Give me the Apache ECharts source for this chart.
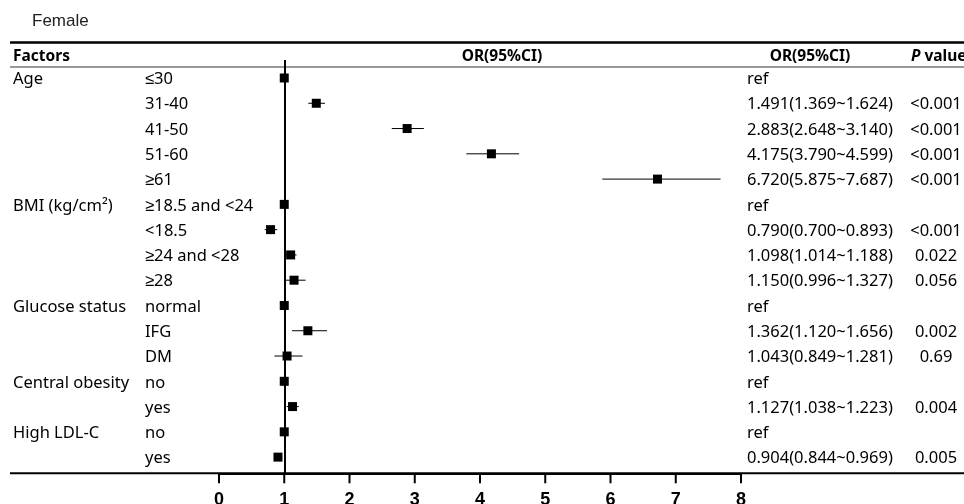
<!DOCTYPE html>
<html><head><meta charset="utf-8">
<script src="https://cdn.jsdelivr.net/npm/echarts@6/dist/echarts.min.js"></script>
<style>html,body{margin:0;padding:0;background:#fff}#c{width:964px;height:504px}</style>
</head><body><div id="c"></div>
<script>
const factors = ['Age','','','','','BMI (kg/cm²)','','','','Glucose status','','','Central obesity','','High LDL-C',''];
const subgroups = ['≤30','31-40','41-50','51-60','≥61','≥18.5 and <24','<18.5','≥24 and <28','≥28','normal','IFG','DM','no','yes','no','yes'];
const orValues = [1,1.491,2.883,4.175,6.720,1,0.790,1.098,1.150,1,1.362,1.043,1,1.127,1,0.904];
const ciLower = [null,1.369,2.648,3.790,5.875,null,0.700,1.014,0.996,null,1.120,0.849,null,1.038,null,0.844];
const ciUpper = [null,1.624,3.140,4.599,7.687,null,0.893,1.188,1.327,null,1.656,1.281,null,1.223,null,0.969];
const orText = ['ref','1.491(1.369~1.624)','2.883(2.648~3.140)','4.175(3.790~4.599)','6.720(5.875~7.687)','ref','0.790(0.700~0.893)','1.098(1.014~1.188)','1.150(0.996~1.327)','ref','1.362(1.120~1.656)','1.043(0.849~1.281)','ref','1.127(1.038~1.223)','ref','0.904(0.844~0.969)'];
const pValues = ['','<0.001','<0.001','<0.001','<0.001','','<0.001','0.022','0.056','','0.002','0.69','','0.004','','0.005'];
const xTicks = [0,1,2,3,4,5,6,7,8];

const FONT = '"Noto Sans", sans-serif';
const TS = 16.5;
const HS = 15.5;
const TOPV = 16.352, LASTROW = 15.64;
const rowPos = i => LASTROW - i;

const forestData = orValues.map((v,i)=>[v, rowPos(i), ciLower[i], ciUpper[i]]);
const tableData = subgroups.map((s,i)=>[0, rowPos(i), i]);
const tickData = xTicks.map(t=>[t, 0]);

const chart = echarts.init(document.getElementById('c'));
chart.setOption({
  animation:false,
  backgroundColor:'#fff',
  grid:{left:219, right:223, top:60, bottom:30.7, containLabel:false, outerBoundsMode:'none'},
  xAxis:{type:'value', position:'bottom', min:xTicks[0], max:xTicks[xTicks.length-1], interval:1,
    axisLine:{show:true, onZero:false, lineStyle:{color:'#000', width:2}},
    axisTick:{show:false},
    axisLabel:{show:true, margin:18, color:'#000', fontWeight:'bold', fontSize:18, fontFamily:'"Liberation Sans", Arial, sans-serif'},
    splitLine:{show:false}},
  yAxis:{type:'value', min:0, max:TOPV, show:false},
  graphic:[
    {type:'text', x:32, y:21, style:{text:'Female', fontSize:17, fontFamily:'"Liberation Sans", Arial, sans-serif', fill:'#222', verticalAlign:'middle'}},
    {type:'line', shape:{x1:10,y1:42.5,x2:964,y2:42.5}, style:{stroke:'#000', lineWidth:2.5}},
    {type:'line', shape:{x1:10,y1:67,x2:964,y2:67}, style:{stroke:'#777', lineWidth:1.5}},
    {type:'line', shape:{x1:10,y1:473.3,x2:964,y2:473.3}, style:{stroke:'#000', lineWidth:2}},
    {type:'text', x:13, y:56.7, style:{text:'Factors', font:'bold '+HS+'px '+FONT, fill:'#000', verticalAlign:'middle'}},
    {type:'text', x:502, y:56.7, style:{text:'OR(95%CI)', font:'bold '+HS+'px '+FONT, fill:'#000', align:'center', verticalAlign:'middle'}},
    {type:'text', x:810, y:56.7, style:{text:'OR(95%CI)', font:'bold '+HS+'px '+FONT, fill:'#000', align:'center', verticalAlign:'middle'}},
    {type:'text', x:911, y:56.7, style:{text:'{i|P} value', font:'bold '+HS+'px '+FONT, fill:'#000', verticalAlign:'middle',
      rich:{i:{fontStyle:'italic', fontWeight:'bold', fontSize:HS, fontFamily:FONT, fill:'#000'}}}}
  ],
  series:[
    {type:'custom', name:'forest', data:forestData, clip:false, encode:{x:0, y:1},
      renderItem:function(params, api){
        const v = api.value(0), r = api.value(1), lo = api.value(2), hi = api.value(3);
        const c = api.coord([v, r]);
        const children = [];
        if (lo !== null && !isNaN(lo) && !isNaN(hi)) {
          const a = api.coord([lo, r]), b = api.coord([hi, r]);
          children.push({type:'line', shape:{x1:a[0], y1:a[1], x2:b[0], y2:b[1]}, style:{stroke:'#000', lineWidth:1}});
        }
        children.push({type:'rect', shape:{x:c[0]-4.5, y:c[1]-4.5, width:9, height:9}, style:{fill:'#000'}});
        return {type:'group', children:children};
      },
      markLine:{silent:true, symbol:['none','none'], label:{show:false},
        lineStyle:{color:'#000', width:2, type:'solid'}, data:[{xAxis:1}]},
      z:3
    },
    {type:'custom', name:'ticks', data:tickData, clip:false, silent:true, encode:{x:0, y:1}, z:10,
      renderItem:function(params, api){
        const p = api.coord([api.value(0), api.value(1)]);
        return {type:'rect', shape:{x:p[0]-1, y:p[1], width:2, height:10}, style:{fill:'#000'}};
      }
    },
    {type:'custom', name:'table', data:tableData, clip:false, silent:true, encode:{x:0, y:1},
      renderItem:function(params, api){
        const r = api.value(1), i = api.value(2);
        const y = api.coord([0, r])[1] + 1.5;
        const f = 'normal '+TS+'px '+FONT;
        const kids = [];
        if (factors[i]) kids.push({type:'text', x:13, y:y, style:{text:factors[i], font:f, fill:'#000', verticalAlign:'middle'}});
        kids.push({type:'text', x:145, y:y, style:{text:subgroups[i], font:f, fill:'#000', verticalAlign:'middle'}});
        kids.push({type:'text', x:747, y:y, style:{text:orText[i], font:f, fill:'#000', verticalAlign:'middle'}});
        if (pValues[i]) kids.push({type:'text', x:936, y:y, style:{text:pValues[i], font:f, fill:'#000', align:'center', verticalAlign:'middle'}});
        return {type:'group', children:kids};
      }
    }
  ]
});
</script></body></html>
